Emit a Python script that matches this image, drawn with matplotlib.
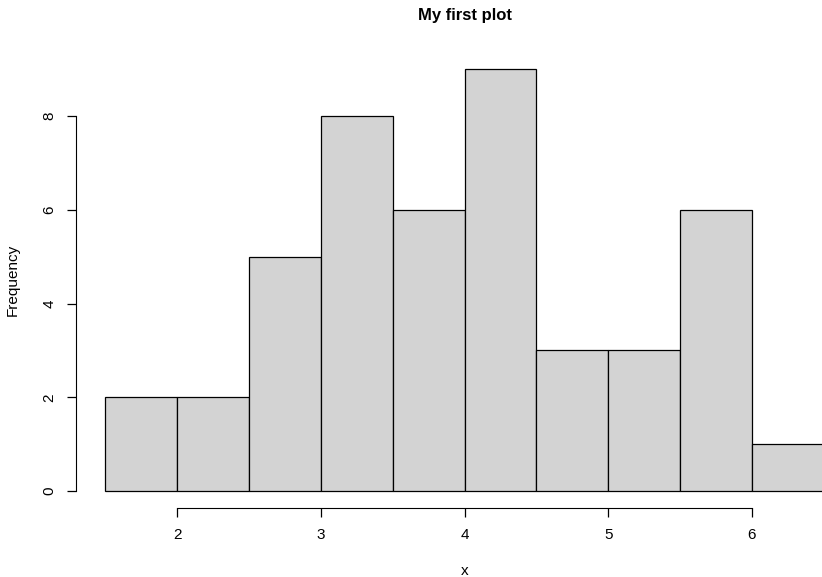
import matplotlib
matplotlib.use("Agg")
import matplotlib.pyplot as plt
import numpy as np

# histogram bins and counts
bin_edges = [1.5, 2.0, 2.5, 3.0, 3.5, 4.0, 4.5, 5.0, 5.5, 6.0, 6.5]
counts = [2, 2, 5, 8, 6, 9, 3, 3, 6, 1]
x_ticks = [2, 3, 4, 5, 6]
y_ticks = [0, 2, 4, 6, 8]

plt.rcParams['font.family'] = ['Liberation Sans', 'DejaVu Sans']

fig = plt.figure(figsize=(8.22, 5.77), dpi=100)
# plot region runs past the right edge, like the original
ax = fig.add_axes([76.4 / 822, 1 - 507.9 / 577, 776.2 / 822, 455.6 / 577])

edges = np.array(bin_edges)
ax.bar(edges[:-1], counts, width=np.diff(edges), align='edge',
       color='#D3D3D3', edgecolor='black', linewidth=0.9)

# R style: 4% extension, axis lines only between first and last tick
ax.set_xlim(1.5 - 0.2, 6.5 + 0.2)
ax.set_ylim(-0.36, 9.36)
ax.spines['top'].set_visible(False)
ax.spines['right'].set_visible(False)
ax.spines['left'].set_bounds(y_ticks[0], y_ticks[-1])
ax.spines['bottom'].set_bounds(x_ticks[0], x_ticks[-1])
ax.set_xticks(x_ticks)
ax.set_yticks(y_ticks)
ax.tick_params(length=6.5, width=0.9, labelsize=11, pad=8)
ax.tick_params(axis='y', labelrotation=90)
for lab in ax.get_yticklabels():
    lab.set_va('center')

ax.set_title('My first plot', fontsize=12, fontweight='bold', pad=23)
ax.set_xlabel('x', fontsize=11, labelpad=16)
ax.set_ylabel('Frequency', fontsize=11, labelpad=16)

fig.savefig('out.png', dpi=100)
